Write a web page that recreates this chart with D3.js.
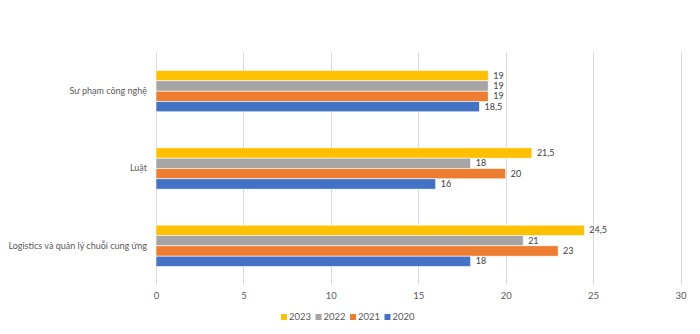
<!DOCTYPE html>
<html><head><meta charset="utf-8">
<script src="https://cdn.jsdelivr.net/npm/d3@7"></script>
<style>body{margin:0;background:#fff}svg{display:block}</style>
</head><body><div id="c"></div>
<script>
const categories = ["Sư phạm công nghệ", "Luật", "Logistics và quản lý chuỗi cung ứng"];
const seriesNames = ["2023", "2022", "2021", "2020"];
const values2023 = [19, 21.5, 24.5];
const values2022 = [19, 18, 21];
const values2021 = [19, 20, 23];
const values2020 = [18.5, 16, 18];
const colors = ["#FFC000", "#A5A5A5", "#ED7D31", "#4472C4"];
const xTicks = [0, 5, 10, 15, 20, 25, 30];

(function () {
const series = [values2023, values2022, values2021, values2020];
const W = 700, H = 334;
const pLeft = 156, pRight = 680.5, pTop = 52.5, pBottom = 284.5;
const font = "Lato, 'Liberation Sans', Arial, sans-serif";

const svg = d3.select("#c").append("svg").attr("width", W).attr("height", H);
const x = d3.scaleLinear().domain([0, 30]).range([pLeft, pRight]);
const y0 = d3.scaleBand().domain(categories).range([pTop, pBottom]).paddingInner(0.466).paddingOuter(0.233);
const y1 = d3.scaleBand().domain(seriesNames).range([0, y0.bandwidth()]);

svg.append("g").selectAll("line").data(xTicks).join("line")
  .attr("x1", d => Math.round(x(d)) + 0.5).attr("x2", d => Math.round(x(d)) + 0.5)
  .attr("y1", pTop).attr("y2", pBottom)
  .attr("stroke", "#D9D9D9").attr("stroke-width", 1);

const xAxis = svg.append("g").attr("transform", `translate(0,${pBottom})`)
  .call(d3.axisBottom(x).tickValues(xTicks).tickSize(0).tickPadding(8).tickFormat(d3.format("d")));
xAxis.select(".domain").remove();
xAxis.selectAll("text").attr("fill", "#595959").style("font-family", font).style("font-size", "9.5px");

const yAxis = svg.append("g").attr("transform", `translate(${pLeft},0)`)
  .call(d3.axisLeft(y0).tickSize(0).tickPadding(9));
yAxis.select(".domain").remove();
yAxis.selectAll("text").attr("fill", "#595959").style("font-family", font).style("font-size", "9px");

const fmt = v => String(v).replace(".", ",");

categories.forEach((cat, ci) => {
  const g = svg.append("g").attr("transform", `translate(0,${y0(cat)})`);
  seriesNames.forEach((s, si) => {
    const v = series[si][ci];
    g.append("rect")
      .attr("x", x(0)).attr("y", y1(s))
      .attr("width", x(v) - x(0)).attr("height", y1.bandwidth())
      .attr("fill", colors[si]).attr("stroke", "#fff").attr("stroke-width", 0.6);
    g.append("text")
      .attr("x", x(v) + 5).attr("y", y1(s) + y1.bandwidth() / 2)
      .attr("dy", "0.35em").attr("fill", "#404040")
      .style("font-family", font).style("font-size", "9px")
      .text(fmt(v));
  });
});

const legendX = [281, 315.5, 350, 384.5];
const lg = svg.append("g");
seriesNames.forEach((s, i) => {
  lg.append("rect").attr("x", legendX[i]).attr("y", 314).attr("width", 6).attr("height", 6).attr("fill", colors[i]);
  lg.append("text").attr("x", legendX[i] + 8).attr("y", 317).attr("dy", "0.35em")
    .attr("fill", "#595959").style("font-family", font).style("font-size", "9.5px").text(s);
});
})();
</script>
</body></html>
